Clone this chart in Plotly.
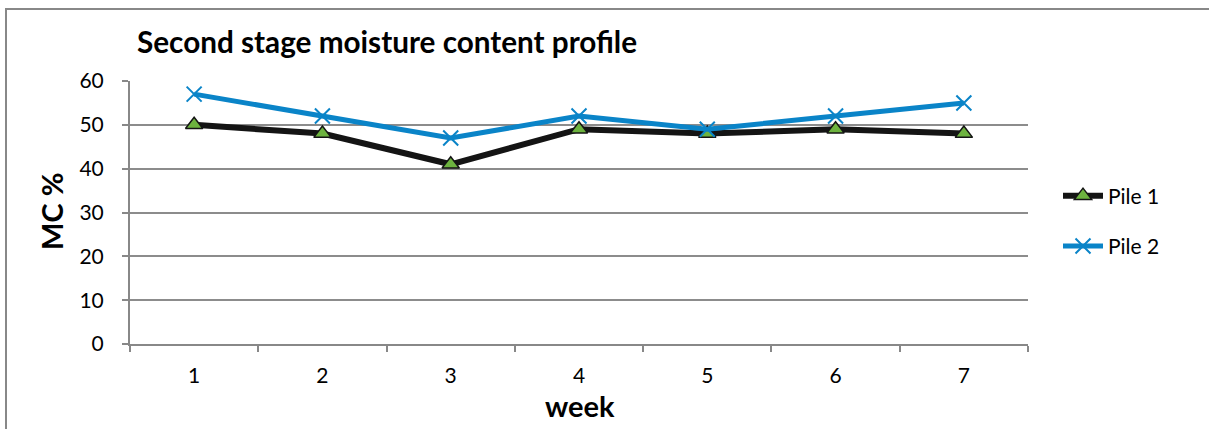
import plotly.graph_objects as go

weeks = ["1", "2", "3", "4", "5", "6", "7"]
pile1 = [50, 48, 41, 49, 48, 49, 48]
pile2 = [57, 52, 47, 52, 49, 52, 55]
y_ticks = [0, 10, 20, 30, 40, 50, 60]

W, H = 1209, 429
L, R, T, B = 130, 1028, 81, 344

fig = go.Figure()
fig.add_trace(go.Scatter(
    x=weeks, y=pile1, name="Pile 1", mode="lines+markers", legendgroup="p1",
    line=dict(color="#141414", width=6),
    marker=dict(symbol="triangle-up", size=15, color="#6DB33F",
                line=dict(color="#141414", width=1.5)),
))
fig.add_trace(go.Scatter(
    x=weeks, y=pile2, name="Pile 2", mode="lines+markers", legendgroup="p2",
    line=dict(color="#0A84C8", width=5),
    marker=dict(symbol="x-thin", size=15, color="#0A84C8",
                line=dict(color="#0A84C8", width=2)),
))

def px2x(px):
    return (px - L) / (R - L)

def py2y(py):
    return (B - py) / (B - T)

fig.update_layout(
    width=W, height=H,
    margin=dict(l=L, r=W - R, t=T, b=H - B, pad=0),
    paper_bgcolor="white", plot_bgcolor="white",
    font=dict(family="Lato, Carlito, Calibri, sans-serif", size=21, color="#000"),
    title=dict(text="<b>Second stage moisture content profile</b>",
               x=137 / W, xanchor="left", xref="container",
               y=1 - 43 / H, yanchor="middle", yref="container",
               font=dict(size=29.7, color="#000")),
    showlegend=True,
    legend=dict(x=px2x(1058), xanchor="left", y=py2y(221), yanchor="middle",
                font=dict(size=21), tracegroupgap=20, itemwidth=40,
                bgcolor="rgba(0,0,0,0)"),
    xaxis=dict(type="category", range=[-0.5, 6.5], tickson="boundaries", ticks="outside",
               ticklen=6, tickwidth=2, tickcolor="#888888",
               showline=True, linecolor="#888888", linewidth=2,
               showgrid=False, ticklabelstandoff=12, fixedrange=True),
    yaxis=dict(range=[0, 60], tickvals=y_ticks, ticks="outside",
               ticklen=6, tickwidth=2, tickcolor="#888888",
               showline=True, linecolor="#888888", linewidth=2,
               showgrid=True, gridcolor="#8C8C8C", gridwidth=2,
               zeroline=False, ticklabelstandoff=14, fixedrange=True),
    annotations=[
        dict(text="<b>MC %</b>", x=px2x(51), y=py2y(212), xref="paper", yref="paper",
             showarrow=False, textangle=-90, font=dict(size=29),
             xanchor="center", yanchor="middle"),
        dict(text="<b>week</b>", x=px2x(580), y=py2y(405), xref="paper", yref="paper",
             showarrow=False, font=dict(size=29),
             xanchor="center", yanchor="middle"),
    ],
    shapes=[
        dict(type="line", xref="paper", yref="paper",
             x0=px2x(6), x1=px2x(1209), y0=py2y(9), y1=py2y(9),
             line=dict(color="#888888", width=2)),
        dict(type="line", xref="paper", yref="paper",
             x0=px2x(6), x1=px2x(6), y0=py2y(8), y1=py2y(429),
             line=dict(color="#888888", width=2)),
    ],
)

fig.write_html("out.html", config={"displayModeBar": False},
               post_script="document.body.style.margin='0';document.body.style.overflow='hidden';")
